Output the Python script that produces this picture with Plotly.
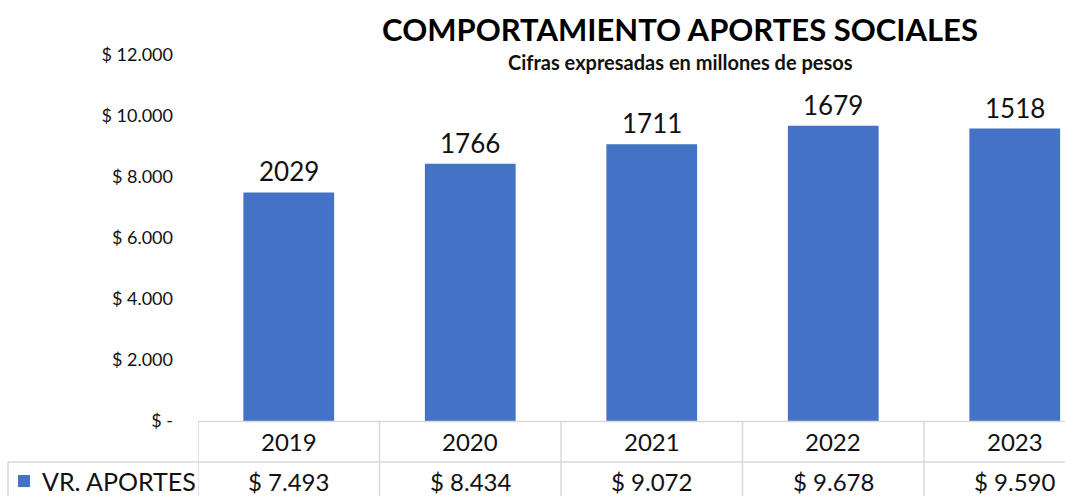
import plotly.graph_objects as go

years = ["2019", "2020", "2021", "2022", "2023"]
aportes = [7493, 8434, 9072, 9678, 9590]
bar_labels = ["2029", "1766", "1711", "1679", "1518"]
value_text = ["$ 7.493", "$ 8.434", "$ 9.072", "$ 9.678", "$ 9.590"]
tick_vals = [0, 2000, 4000, 6000, 8000, 10000, 12000]
tick_text = ["$ -", "$ 2.000", "$ 4.000", "$ 6.000", "$ 8.000", "$ 10.000", "$ 12.000"]
series_name = "VR. APORTES"

BLUE = "#4472C4"
GRID = "#d9d9d9"
FONT = "Lato"
W, H = 1065, 496
ML, MR, MT, MB = 198, 0, 55, 75
PW = W - ML - MR
PH = H - MT - MB

def px_to_py(py):
    return (H - MB - py) / PH

def px_to_px(px):
    return (px - ML) / PW

x_idx = list(range(len(years)))

fig = go.Figure()
fig.add_trace(go.Bar(
    x=x_idx, y=aportes, marker=dict(color=BLUE, line=dict(width=0)),
    width=0.5, name=series_name, showlegend=False, hoverinfo="skip",
))

annotations = []
for i, (v, lab) in enumerate(zip(aportes, bar_labels)):
    annotations.append(dict(x=i, y=v, xref="x", yref="y", text=lab, showarrow=False,
                            yshift=21, font=dict(family=FONT, size=26, color="#111")))
for i, (yr, vt) in enumerate(zip(years, value_text)):
    annotations.append(dict(x=i, y=px_to_py(441), xref="x", yref="paper", text=yr,
                            showarrow=False, yanchor="middle",
                            font=dict(family=FONT, size=24, color="#111")))
    annotations.append(dict(x=i, y=px_to_py(481), xref="x", yref="paper", text=vt,
                            showarrow=False, yanchor="middle",
                            font=dict(family=FONT, size=24, color="#111")))
annotations.append(dict(x=px_to_px(40), y=px_to_py(481), xref="paper", yref="paper",
                        text=series_name, showarrow=False, xanchor="left", yanchor="middle",
                        font=dict(family=FONT, size=25, color="#111")))
annotations.append(dict(x=px_to_px(680), y=px_to_py(62), xref="paper", yref="paper",
                        text="<b>Cifras expresadas en millones de pesos</b>", showarrow=False,
                        xanchor="center", yanchor="middle",
                        font=dict(family=FONT, size=20, color="#111")))

shapes = []
line = dict(color=GRID, width=1.5)
shapes.append(dict(type="line", xref="paper", yref="paper", x0=0, x1=1,
                   y0=px_to_py(421.5), y1=px_to_py(421.5), line=line))
shapes.append(dict(type="line", xref="paper", yref="paper", x0=px_to_px(8), x1=1,
                   y0=px_to_py(462), y1=px_to_py(462), line=line))
shapes.append(dict(type="line", xref="paper", yref="paper", x0=px_to_px(8), x1=px_to_px(8),
                   y0=px_to_py(462), y1=px_to_py(500), line=line))
for k in range(len(years)):
    shapes.append(dict(type="line", xref="x", yref="paper", x0=k - 0.5, x1=k - 0.5,
                       y0=px_to_py(421.5), y1=px_to_py(500), line=line))
shapes.append(dict(type="rect", xref="paper", yref="paper",
                   x0=px_to_px(18), x1=px_to_px(30), y0=px_to_py(487), y1=px_to_py(475),
                   fillcolor=BLUE, line=dict(width=0)))

fig.update_layout(
    width=W, height=H,
    margin=dict(l=ML, r=MR, t=MT, b=MB),
    paper_bgcolor="white", plot_bgcolor="white",
    title=dict(text="<b>COMPORTAMIENTO APORTES SOCIALES</b>", x=680 / W, xanchor="center",
               y=1 - 30 / H, yanchor="middle", font=dict(family=FONT, size=31, color="#000")),
    xaxis=dict(range=[-0.5, -0.5 + PW / 181.5], showticklabels=False, showgrid=False,
               zeroline=False, showline=False, ticks="", fixedrange=True),
    yaxis=dict(range=[0, 12000], tickvals=tick_vals, ticktext=tick_text, showgrid=False,
               zeroline=False, showline=False, ticks="", ticklabelstandoff=24,
               tickfont=dict(family=FONT, size=18, color="#111")),
    annotations=annotations, shapes=shapes, showlegend=False,
)

fig.write_html("out.html", config={"displayModeBar": False},
               post_script="document.body.style.margin='0';document.body.style.overflow='hidden';")
